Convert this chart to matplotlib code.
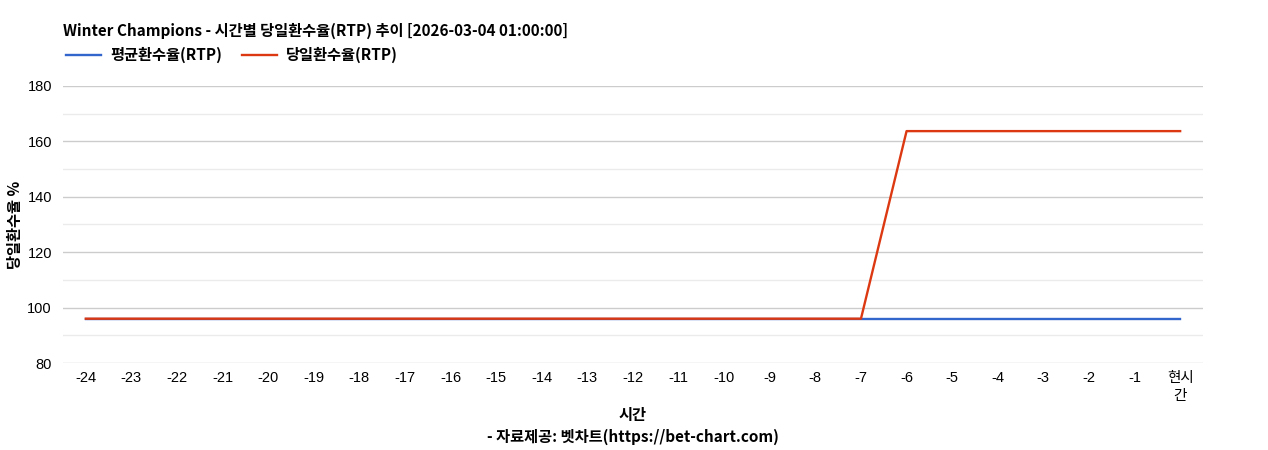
import matplotlib
matplotlib.use('Agg')
import matplotlib.pyplot as plt

plt.rcParams['font.family'] = ['Noto Sans CJK KR', 'DejaVu Sans']
tick_fonts = ['Liberation Sans', 'Noto Sans CJK KR']

# data
hours = ['-24', '-23', '-22', '-21', '-20', '-19', '-18', '-17', '-16', '-15', '-14', '-13',
         '-12', '-11', '-10', '-9', '-8', '-7', '-6', '-5', '-4', '-3', '-2', '-1', '현시\n간']
avg_rtp = [96.0] * 25
day_rtp = [96.0] * 18 + [163.7] * 7

title = 'Winter Champions - 시간별 당일환수율(RTP) 추이 [2026-03-04 01:00:00]'

fig = plt.figure(figsize=(12.68, 4.5), dpi=100)
ax = fig.add_axes([0.0497, 0.1933, 0.899, 0.6157])

x = list(range(len(hours)))
ax.plot(x, avg_rtp, color='#3366cc', lw=1.7, label='평균환수율(RTP)')
ax.plot(x, day_rtp, color='#dc3912', lw=1.7, label='당일환수율(RTP)')

ax.set_xlim(-0.5, len(hours) - 0.5)
ax.set_ylim(80, 180)
ax.set_yticks(range(80, 181, 20))
ax.set_yticks(range(90, 180, 20), minor=True)
ax.set_xticks(x)
ax.set_xticklabels(hours, fontsize=10.5, linespacing=1.35, family=tick_fonts)
for lbl in ax.get_yticklabels():
    lbl.set_family(tick_fonts)
ax.tick_params(axis='y', labelsize=10.5, length=0, pad=8)
ax.tick_params(axis='x', length=0, pad=6)
ax.tick_params(which='minor', length=0)
ax.grid(axis='y', which='major', color='#cccccc', lw=1)
ax.grid(axis='y', which='minor', color='#ebebeb', lw=1)
ax.set_axisbelow(True)
for s in ax.spines.values():
    s.set_visible(False)

fig.text(0.012, 0.5, '당일환수율 %', rotation=90, ha='center', va='center',
         fontsize=11, fontweight='bold')
fig.text(0.4992, 0.078, '시간', ha='center', va='center', fontsize=11, fontweight='bold')
fig.text(0.4992, 0.029, '- 자료제공: 벳차트(https://bet-chart.com)', ha='center', va='center',
         fontsize=11, fontweight='bold')

fig.text(0.0497, 0.932, title, ha='left', va='center', fontsize=11, fontweight='bold')
leg = ax.legend(loc='lower left', bbox_to_anchor=(-0.003, 1.06), ncol=2, frameon=False,
                handlelength=2.3, columnspacing=1.3, borderaxespad=0, handletextpad=0.6,
                prop={'weight': 'bold', 'size': 11})

fig.savefig('out.png', dpi=100)
